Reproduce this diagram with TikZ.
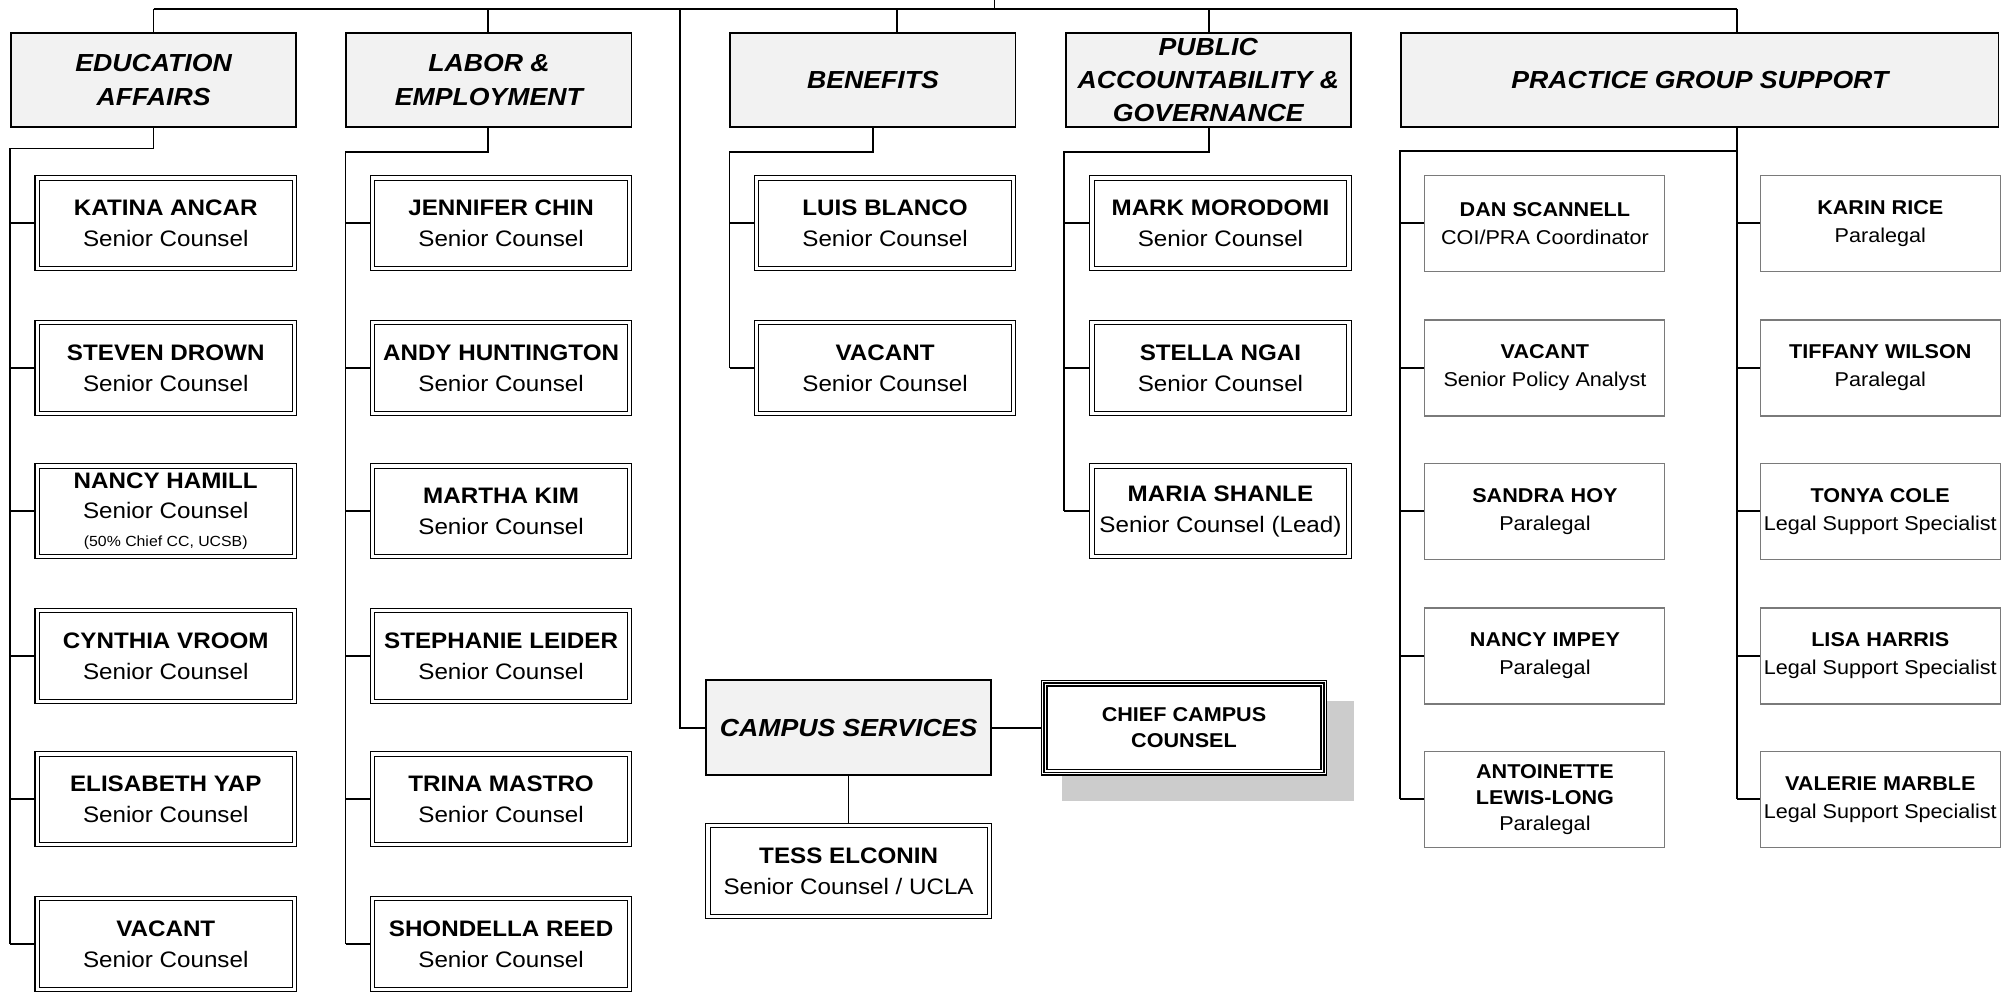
\documentclass[tikz,border=0pt]{standalone}
\usepackage{fontspec}
\setmainfont[FakeStretch=1.08]{Liberation Sans}
\usetikzlibrary{backgrounds,calc}
\definecolor{hdrfill}{HTML}{F2F2F2}
\definecolor{shadowgray}{HTML}{CCCCCC}
\definecolor{pgsline}{HTML}{7A7A7A}
\tikzset{
 conn/.style={line width=1.3pt, draw=black},
 hdr/.style={draw, line width=1.3pt, fill=hdrfill, minimum width=214pt, minimum height=71pt, inner sep=0pt, align=center, font=\fontsize{18.5}{25}\selectfont\bfseries\itshape},
 person/.style={draw, line width=0.85pt, double=white, double distance=2.4pt, fill=white, minimum width=192.8pt, minimum height=68pt, inner sep=0pt, align=center, font=\fontsize{16.8}{23}\selectfont},
 staff/.style={draw=pgsline, line width=0.8pt, fill=white, minimum width=180pt, minimum height=72pt, inner sep=0pt, align=center, font=\fontsize{15}{21}\selectfont},
 chiefbox/.style={draw, line width=1.1pt, fill=white, minimum width=214pt, minimum height=71pt, inner sep=0pt, align=center, font=\fontsize{15}{19.5}\selectfont\bfseries},
 chiefline/.style={line width=1.1pt, draw=black},
}
\begin{document}
\begin{tikzpicture}[x=0.96pt, y=-0.96pt]
\useasboundingbox (0,0) rectangle (1568,777);

% headers
\node[hdr] (edu) at (120,62.5) {EDUCATION\\AFFAIRS};
\node[hdr] (lab) at (382,62.5) {LABOR \&\\EMPLOYMENT};
\node[hdr] (ben) at (682,62.5) {BENEFITS};
\node[hdr] (pub) at (944,62.5) {PUBLIC\\ACCOUNTABILITY \&\\GOVERNANCE};
\node[hdr, minimum width=448pt] (pgs) at (1328,62.5) {PRACTICE GROUP SUPPORT};
\node[hdr] (cs) at (663,568.5) {CAMPUS SERVICES};

% education affairs
\node[person] (e1) at (129.5,174.5) {\textbf{KATINA ANCAR}\\Senior Counsel};
\node[person] (e2) at (129.5,287.5) {\textbf{STEVEN DROWN}\\Senior Counsel};
\node[person] (e3) at (129.5,399.5) {\textbf{NANCY HAMILL}\\Senior Counsel\\[-2pt]{\fontsize{11}{12}\selectfont (50\% Chief CC, UCSB)}};
\node[person] (e4) at (129.5,512.5) {\textbf{CYNTHIA VROOM}\\Senior Counsel};
\node[person] (e5) at (129.5,624.5) {\textbf{ELISABETH YAP}\\Senior Counsel};
\node[person] (e6) at (129.5,737.5) {\textbf{VACANT}\\Senior Counsel};

% labor
\node[person] (l1) at (391.5,174.5) {\textbf{JENNIFER CHIN}\\Senior Counsel};
\node[person] (l2) at (391.5,287.5) {\textbf{ANDY HUNTINGTON}\\Senior Counsel};
\node[person] (l3) at (391.5,399.5) {\textbf{MARTHA KIM}\\Senior Counsel};
\node[person] (l4) at (391.5,512.5) {\textbf{STEPHANIE LEIDER}\\Senior Counsel};
\node[person] (l5) at (391.5,624.5) {\textbf{TRINA MASTRO}\\Senior Counsel};
\node[person] (l6) at (391.5,737.5) {\textbf{SHONDELLA REED}\\Senior Counsel};

% benefits
\node[person] (b1) at (691.5,174.5) {\textbf{LUIS BLANCO}\\Senior Counsel};
\node[person] (b2) at (691.5,287.5) {\textbf{VACANT}\\Senior Counsel};

% public accountability
\node[person] (p1) at (953.5,174.5) {\textbf{MARK MORODOMI}\\Senior Counsel};
\node[person] (p2) at (953.5,287.5) {\textbf{STELLA NGAI}\\Senior Counsel};
\node[person] (p3) at (953.5,399.5) {\textbf{MARIA SHANLE}\\Senior Counsel (Lead)};

% practice group support
\node[staff] (s1) at (1207,174.5) {\textbf{DAN SCANNELL}\\COI/PRA Coordinator};
\node[staff] (s2) at (1207,287.5) {\textbf{VACANT}\\Senior Policy Analyst};
\node[staff] (s3) at (1207,399.5) {\textbf{SANDRA HOY}\\Paralegal};
\node[staff] (s4) at (1207,512.5) {\textbf{NANCY IMPEY}\\Paralegal};
\node[staff, font=\fontsize{15}{19.5}\selectfont] (s5) at (1207,624.5) {\textbf{ANTOINETTE}\\\textbf{LEWIS-LONG}\\Paralegal};
\node[staff] (r1) at (1469,174.5) {\textbf{KARIN RICE}\\Paralegal};
\node[staff] (r2) at (1469,287.5) {\textbf{TIFFANY WILSON}\\Paralegal};
\node[staff] (r3) at (1469,399.5) {\textbf{TONYA COLE}\\Legal Support Specialist};
\node[staff] (r4) at (1469,512.5) {\textbf{LISA HARRIS}\\Legal Support Specialist};
\node[staff] (r5) at (1469,624.5) {\textbf{VALERIE MARBLE}\\Legal Support Specialist};

% campus services
\node[chiefbox] (chief) at (925,568.5) {CHIEF CAMPUS\\COUNSEL};
\draw[chiefline] ([shift={(2.4pt,-2.4pt)}]chief.north west) rectangle ([shift={(-2.4pt,2.4pt)}]chief.south east);
\draw[chiefline] ([shift={(4.8pt,-4.8pt)}]chief.north west) rectangle ([shift={(-4.8pt,4.8pt)}]chief.south east);
\node[person, minimum width=211pt] (tess) at (663,680.5) {\textbf{TESS ELCONIN}\\Senior Counsel / UCLA};

\begin{scope}[on background layer]
 \fill[shadowgray] (830,548) rectangle (1058,626);
 % bus
 \coordinate (root) at (777,0);
 \coordinate (busL) at (120,7);
 \coordinate (busR) at (1357,7);
 \coordinate (labTop) at (381,7);
 \coordinate (benTop) at (701,7);
 \coordinate (pubTop) at (944.5,7);
 \coordinate (csTop) at (531.5,7);
 \draw[conn] (busL) -- (busR);
 \draw[conn] (root) -- (root |- busL);
 \draw[conn] (busL) -- (edu.north);
 \draw[conn] (labTop) -- (labTop |- lab.north);
 \draw[conn] (benTop) -- (benTop |- ben.north);
 \draw[conn] (pubTop) -- (pubTop |- pub.north);
 \draw[conn] (busR) -- (busR |- pgs.north);
 \draw[conn] (csTop) |- (cs.west);
 \draw[conn] (cs.east) -- (chief.west);
 \draw[conn] (cs.south) -- (tess.north);
 % education
 \coordinate (eduL) at (8,116);
 \draw[conn] (edu.south) |- (eduL) -- (eduL |- e6.west);
 \foreach \n in {e1,e2,e3,e4,e5,e6} \draw[conn] (eduL |- \n.west) -- (\n.west);
 % labor
 \coordinate (labL) at (270,118.5);
 \draw[conn] (labTop |- lab.south) |- (labL) -- (labL |- l6.west);
 \foreach \n in {l1,l2,l3,l4,l5,l6} \draw[conn] (labL |- \n.west) -- (\n.west);
 % benefits
 \coordinate (benL) at (570,118.5);
 \draw[conn] (ben.south) |- (benL) -- (benL |- b2.west);
 \foreach \n in {b1,b2} \draw[conn] (benL |- \n.west) -- (\n.west);
 % public
 \coordinate (pubL) at (831.5,118.5);
 \draw[conn] (pubTop |- pub.south) |- (pubL) -- (pubL |- p3.west);
 \foreach \n in {p1,p2,p3} \draw[conn] (pubL |- \n.west) -- (\n.west);
 % pgs
 \coordinate (pgsJ) at (1357,118);
 \coordinate (pgsL) at (1094,118);
 \draw[conn] (busR |- pgs.south) -- (busR |- r5.west);
 \draw[conn] (pgsJ) -- (pgsL) -- (pgsL |- s5.west);
 \foreach \n in {s1,s2,s3,s4,s5} \draw[conn] (pgsL |- \n.west) -- (\n.west);
 \foreach \n in {r1,r2,r3,r4,r5} \draw[conn] (busR |- \n.west) -- (\n.west);
\end{scope}
\end{tikzpicture}
\end{document}
